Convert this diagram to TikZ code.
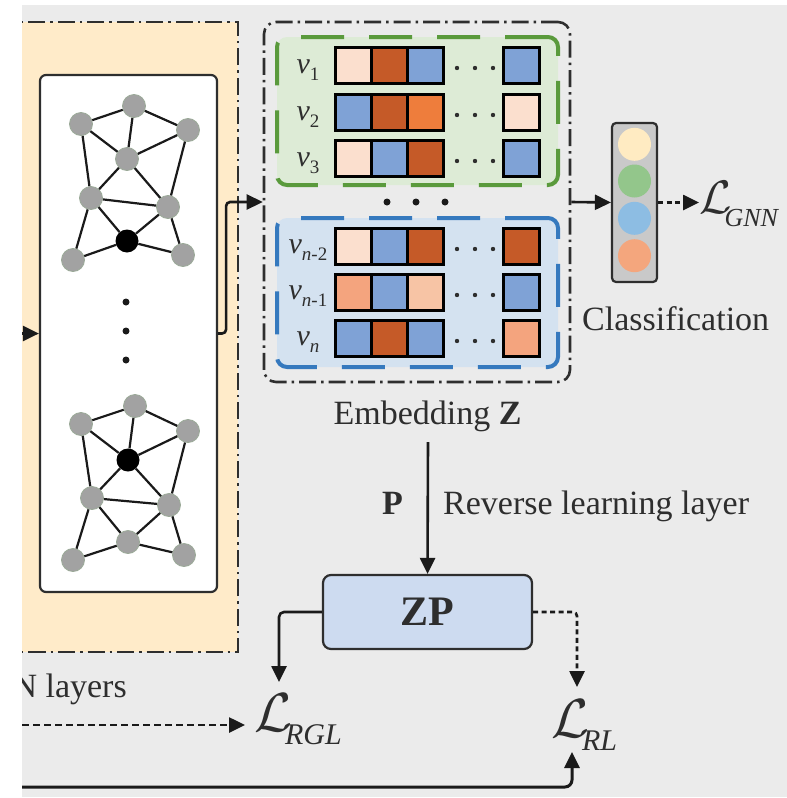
\RequirePackage{fix-cm}
\documentclass[tikz,border=0pt]{standalone}
\usepackage{fontspec}
\setmainfont{Liberation Serif}
\usetikzlibrary{arrows.meta}

\definecolor{canvas}{HTML}{EBEBEB}
\definecolor{panelfill}{HTML}{FFEBC9}
\definecolor{framec}{HTML}{2E2E2E}
\definecolor{linec}{HTML}{1A1A1A}
\definecolor{textc}{HTML}{2E2E2E}
\definecolor{vgray}{HTML}{A2A2A2}
\definecolor{vrim}{HTML}{9BAA98}
\definecolor{grpgreenfill}{HTML}{DDEBD6}
\definecolor{grpgreen}{HTML}{5A9A3C}
\definecolor{grpbluefill}{HTML}{D4E2F0}
\definecolor{grpblue}{HTML}{3579BE}
\definecolor{cpeach}{HTML}{FBDFCE}
\definecolor{crust}{HTML}{C55A28}
\definecolor{cblue}{HTML}{7FA2D6}
\definecolor{corange}{HTML}{EE7D3C}
\definecolor{csalmon}{HTML}{F4A47E}
\definecolor{clight}{HTML}{F7C4A5}
\definecolor{clsfill}{HTML}{C9C9C9}
\definecolor{kcream}{HTML}{FFEBC2}
\definecolor{kgreen}{HTML}{93C68B}
\definecolor{kblue}{HTML}{8DBDE3}
\definecolor{korange}{HTML}{F4A67D}
\definecolor{zpfill}{HTML}{CDDBF0}

% node label v_i
\newcommand{\vlabel}[1]{\textit{v}\raisebox{-7pt}{\fontsize{19}{19}\selectfont #1}}
% loss symbol with italic subscript
\newcommand{\losslabel}[3]{{\fontsize{#1}{#1}\selectfont$\mathcal{L}$}\kern-7pt\raisebox{-13pt}{\fontsize{#3}{#3}\selectfont\textit{#2}}}
% one embedding row: centre y, then four cell colours
\newcommand{\cellrow}[5]{%
  \foreach \cx/\cc in {353/#2,389/#3,425/#4,521/#5}
    \filldraw[cellbox, fill=\cc] (\cx-18,#1-18) rectangle (\cx+18,#1+18);
  \foreach \dx in {457,475,493}
    \fill[framec] (\dx,#1+3) circle (2.2);
}

\begin{document}
\begin{tikzpicture}[x=1pt,y=-1pt,
  dashdotframe/.style={draw=framec, line width=2.6pt, dash pattern=on 17pt off 5pt on 2.5pt off 5pt},
  gnnbox/.style={draw=framec, line width=2.2pt, fill=white, rounded corners=6pt, inner sep=0pt},
  vtx/.style={circle, fill=vgray, draw=vrim, line width=0.8pt, minimum size=23pt, inner sep=0pt},
  vtxhub/.style={circle, fill=black, minimum size=23pt, inner sep=0pt},
  gedge/.style={draw=linec, line width=2.2pt},
  embframe/.style={dashdotframe, rounded corners=12pt, inner sep=0pt},
  grpbox/.style={line width=4pt, dash pattern=on 43pt off 25pt, rounded corners=10pt, inner sep=0pt},
  cellbox/.style={draw=black, line width=3pt},
  clsbox/.style={draw=framec, line width=2.2pt, fill=clsfill, rounded corners=4pt, inner sep=0pt},
  classdot/.style={circle, minimum size=33pt, inner sep=0pt},
  zpbox/.style={draw=framec, line width=2.2pt, fill=zpfill, rounded corners=8pt, inner sep=0pt,
    font=\fontsize{42}{42}\selectfont\bfseries, text=textc},
  txt/.style={font=\fontsize{34}{40}\selectfont, text=textc, inner sep=0pt},
  vtxt/.style={font=\fontsize{30}{30}\selectfont, text=textc, inner sep=0pt},
  conn/.style={draw=linec, line width=2.6pt, -{Triangle[length=16pt,width=15pt]}},
  shortdash/.style={dash pattern=on 5pt off 3.5pt},
  longdash/.style={dash pattern=on 7pt off 4pt}]

\useasboundingbox (0,0) rectangle (787,798);
\fill[white] (0,0) rectangle (787,798);
\fill[canvas] (22,5) rectangle (787,797);

\begin{scope}
\clip (22,5) rectangle (787,797);

% ---------- GNN layers panel ----------
\draw[dashdotframe, fill=panelfill] (-20,22) rectangle (238,652);
\node[gnnbox, minimum width=177pt, minimum height=517pt] (gnn) at (128.5,333.5) {};
\node[txt, anchor=base east] (gnnl) at (127,697) {GNN layers};

% first graph
\node[vtx] (a1) at (81,124) {};
\node[vtx] (a2) at (134,106) {};
\node[vtx] (a3) at (188,130) {};
\node[vtx] (a4) at (127,159) {};
\node[vtx] (a5) at (91,198) {};
\node[vtx] (a6) at (168,207) {};
\node[vtxhub] (a7) at (127,241) {};
\node[vtx] (a8) at (73,260) {};
\node[vtx] (a9) at (183,255) {};
% second graph
\node[vtx] (b1) at (81,424) {};
\node[vtx] (b2) at (135,406) {};
\node[vtx] (b3) at (188,431) {};
\node[vtxhub] (b4) at (128,460) {};
\node[vtx] (b5) at (92,498) {};
\node[vtx] (b6) at (169,505) {};
\node[vtx] (b7) at (128,542) {};
\node[vtx] (b8) at (73,560) {};
\node[vtx] (b9) at (184,555) {};
\foreach \g in {a,b}
  \foreach \i/\j in {1/2,2/3,1/4,2/4,3/4,1/5,4/5,4/6,3/6,5/6,5/7,6/7,5/8,7/8,6/9,7/9}
    \draw[gedge] (\g\i) -- (\g\j);
\foreach \yy in {302,331,360}
  \fill[linec] (126,\yy) circle (3.5);

% ---------- embedding Z ----------
\node[embframe, minimum width=306pt, minimum height=360pt] (emb) at (417,202) {};
\node[grpbox, draw=grpgreen, fill=grpgreenfill, minimum width=281pt, minimum height=148pt] (grpA) at (417.5,111) {};
\node[grpbox, draw=grpblue, fill=grpbluefill, minimum width=281pt, minimum height=149pt] (grpB) at (417.5,292.5) {};

\cellrow{65}{cpeach}{crust}{cblue}{cblue}
\cellrow{112}{cblue}{crust}{corange}{cpeach}
\cellrow{158}{cpeach}{cblue}{crust}{cblue}
\cellrow{246}{cpeach}{cblue}{crust}{crust}
\cellrow{292}{csalmon}{cblue}{clight}{cblue}
\cellrow{338}{cblue}{crust}{cblue}{csalmon}

\node[vtxt, anchor=base] (r1) at (308,73) {\vlabel{1}};
\node[vtxt, anchor=base] (r2) at (308,120) {\vlabel{2}};
\node[vtxt, anchor=base] (r3) at (308,166) {\vlabel{3}};
\node[vtxt, anchor=base] (r4) at (308,253) {\vlabel{\textit{n}-2}};
\node[vtxt, anchor=base] (r5) at (308,299) {\vlabel{\textit{n}-1}};
\node[vtxt, anchor=base] (r6) at (308,345) {\vlabel{\textit{n}}};

\foreach \xx in {387,416,445}
  \fill[linec] (\xx,202) circle (3.5);

\node[txt, anchor=base] (embl) at (427.5,424) {Embedding \textbf{Z}};

% ---------- classification ----------
\node[clsbox, minimum width=45pt, minimum height=159pt] (cls) at (634.5,202.5) {};
\node[classdot, fill=kcream] (k1) at (634.5,144.3) {};
\node[classdot, fill=kgreen] (k2) at (634.5,181) {};
\node[classdot, fill=kblue] (k3) at (634.5,218.3) {};
\node[classdot, fill=korange] (k4) at (634.5,255.7) {};
\node[txt, anchor=base west] (clsl) at (582,330) {Classification};

% ---------- reverse learning ----------
\node[zpbox, minimum width=209pt, minimum height=74pt] (zp) at (427.5,612) {ZP};
\node[txt, anchor=base east] (plab) at (403,514) {\textbf{P}};
\node[txt, anchor=base west] (revl) at (443,514) {Reverse learning layer};

% ---------- losses ----------
\node[txt, anchor=base west] (Lgnn) at (699,213) {\losslabel{47}{GNN}{26}};
\node[txt, anchor=base west] (Lrgl) at (254,731) {\losslabel{55}{RGL}{30}};
\node[txt, anchor=base west] (Lrl) at (551,737) {\losslabel{55}{RL}{30}};

% ---------- connectors ----------
\coordinate (inA) at (0,333.5);
\coordinate (zin) at (428,442);
\coordinate (rgltop) at (279,682);
\coordinate (rltop) at (577,687);
\coordinate (dashA) at (0,725);
\coordinate (rglin) at (245,725);
\coordinate (botA) at (0,787);
\coordinate (rlbot) at (572,752);

\draw[conn] (inA) -- (gnn.west);
\draw[conn, rounded corners=4pt] (gnn.east) -- ++(8,0) |- (emb.west);
\draw[conn] (emb.east) -- (cls.west);
\draw[conn, shortdash] (cls.east) -- (cls.east -| Lgnn.west);
\draw[conn] (zin) -- (zp.north);
\draw[conn, rounded corners=5pt] (zp.west) -| (rgltop);
\draw[conn, shortdash, rounded corners=4pt] (zp.east) -| (rltop);
\draw[conn, longdash] (dashA) -- (rglin);
\draw[conn, line width=3pt, rounded corners=7pt] (botA) -| (rlbot);
\end{scope}
\end{tikzpicture}
\end{document}
